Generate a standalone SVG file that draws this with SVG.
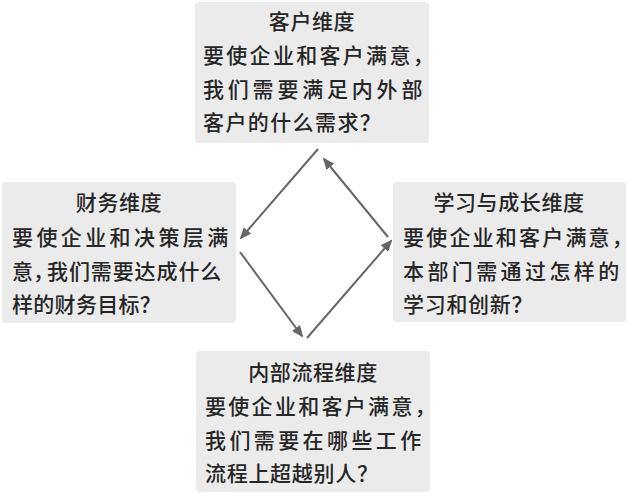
<svg xmlns="http://www.w3.org/2000/svg" width="628" height="494" viewBox="0 0 628 494">
<style>
  .box { fill: #ebebeb; }
  text { font-family: "Noto Sans CJK SC", "Noto Sans", sans-serif; font-size: 21px; font-weight: 500; fill: #262626; }
  .title { text-anchor: middle; letter-spacing: 0.6px; }
  .tail { letter-spacing: -8px; }
  .conn { stroke: #666; stroke-width: 2; fill: none; marker-end: url(#ah); }
</style>
<defs>
  <marker id="ah" markerUnits="userSpaceOnUse" markerWidth="12" markerHeight="10" refX="10" refY="5" orient="auto">
    <path d="M0,0 L12,5 L0,10 z" fill="#666"/>
  </marker>
</defs>
<rect width="628" height="494" fill="#ffffff"/>

<g id="node-customer">
  <rect class="box" x="195" y="2" width="234" height="141" rx="4"/>
  <text class="title" x="312" y="29">客户维度</text>
  <text x="203" y="63" letter-spacing="2.3">要使企业和客户满意<tspan class="tail">，</tspan></text>
  <text x="203" y="97" letter-spacing="3.8">我们需要满足内外部</text>
  <text x="203" y="130" letter-spacing="1.4">客户的什么需求？</text>
</g>

<g id="node-finance">
  <rect class="box" x="2" y="182" width="234" height="141" rx="4"/>
  <text class="title" x="119" y="210">财务维度</text>
  <text x="12" y="245" letter-spacing="3.4">要使企业和决策层满</text>
  <text x="12" y="279">意<tspan letter-spacing="-7">，</tspan><tspan letter-spacing="0.9">我们需要达成什么</tspan></text>
  <text x="12" y="312" letter-spacing="0.3">样的财务目标？</text>
</g>

<g id="node-learning">
  <rect class="box" x="393" y="182" width="233" height="140" rx="4"/>
  <text class="title" x="509" y="210">学习与成长维度</text>
  <text x="403" y="245" letter-spacing="2.2">要使企业和客户满意<tspan class="tail">，</tspan></text>
  <text x="403" y="279" letter-spacing="3.4">本部门需通过怎样的</text>
  <text x="403" y="312" letter-spacing="0.7">学习和创新？</text>
</g>

<g id="node-process">
  <rect class="box" x="196" y="351" width="234" height="141" rx="4"/>
  <text class="title" x="313" y="380">内部流程维度</text>
  <text x="205" y="414" letter-spacing="2.3">要使企业和客户满意<tspan class="tail">，</tspan></text>
  <text x="205" y="448" letter-spacing="3.4">我们需要在哪些工作</text>
  <text x="205" y="481" letter-spacing="0.7">流程上超越别人？</text>
</g>

<g id="connectors">
  <line class="conn" x1="318" y1="149" x2="241" y2="238"/>
  <line class="conn" x1="240" y1="252" x2="302" y2="336"/>
  <line class="conn" x1="307" y1="338" x2="391" y2="241"/>
  <line class="conn" x1="388" y1="237" x2="324" y2="159"/>
</g>
</svg>
